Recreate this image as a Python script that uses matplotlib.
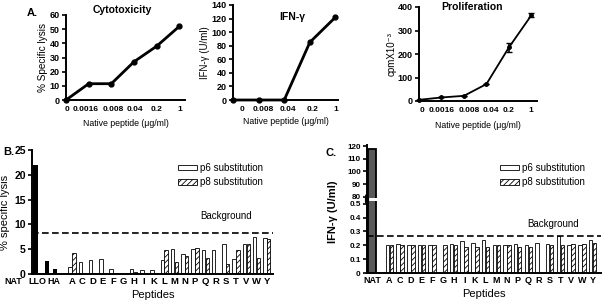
import numpy as np
import matplotlib
matplotlib.use('Agg')
import matplotlib.pyplot as plt
from matplotlib.patches import Patch

plt.rcParams['font.family'] = ['Liberation Sans', 'DejaVu Sans']
plt.rcParams['font.weight'] = 'bold'
plt.rcParams['hatch.linewidth'] = 0.6
plt.rcParams['hatch.color'] = '#333333'

# ---- panel A data ----
conc_cyto = ['0', '0.0016', '0.008', '0.04', '0.2', '1']
lysis = [0, 11.5, 11.5, 27, 38, 52]

conc_ifn = ['0', '0.008', '0.04', '0.2', '1']
ifn = [0, 0, 0, 85, 122]

conc_prolif = ['0', '0.0016', '0.008', '0.04', '0.2', '1']
cpm = [5, 15, 22, 72, 228, 365]
cpm_err = [0, 0, 0, 0, 18, 9]

# ---- panel B data ----
controls_b = ['NAT', 'LLO', 'HA']
controls_b_lysis = [22, 2.6, 1.1]
aa = ['A', 'C', 'D', 'E', 'F', 'G', 'H', 'I', 'K', 'L', 'M', 'N', 'P', 'Q', 'R',
      'S', 'T', 'V', 'W', 'Y']
p6_lysis = [1.5, 2.5, 2.8, 3.0, 1.0, 0.3, 1.0, 0.9, 0.8, 2.8, 5.0, 4.0, 5.0,
            4.8, 4.9, 6.0, 3.0, 6.0, 7.4, 7.3]
p8_lysis = [4.2, 0.0, 0.3, 0.2, 0.2, 0.2, 0.4, 0.3, 0.2, 4.8, 2.4, 3.7, 5.3,
            3.2, 0.0, 2.0, 4.8, 6.0, 3.2, 7.0]
bg_lysis = 8.3

# ---- panel C data ----
nat_ifn = 118
p6_ifn = [0.20, 0.21, 0.20, 0.20, 0.20, 0.0, 0.21, 0.23, 0.22, 0.24, 0.20, 0.20,
          0.21, 0.20, 0.22, 0.21, 0.27, 0.20, 0.20, 0.24]
p8_ifn = [0.20, 0.20, 0.20, 0.20, 0.20, 0.20, 0.20, 0.19, 0.19, 0.19, 0.20, 0.20,
          0.19, 0.19, 0.0, 0.20, 0.20, 0.21, 0.21, 0.22]
bg_ifn = 0.27

W, H = 605, 304
fig = plt.figure(figsize=(W / 100, H / 100), dpi=100)


def box(l, r, t, b):
    return [l / W, (H - b) / H, (r - l) / W, (b - t) / H]


def style(ax, fs=6.5):
    for s in ['top', 'right']:
        ax.spines[s].set_visible(False)
    for s in ['left', 'bottom']:
        ax.spines[s].set_linewidth(1.4)
    ax.tick_params(width=1.2, length=3, labelsize=fs, pad=1.5)


# ----- A: cytotoxicity -----
ax1 = fig.add_axes(box(66, 185, 15, 100))
x = np.arange(len(conc_cyto))
ax1.plot(x, lysis, color='black', lw=2, marker='o', ms=3.5, clip_on=False)
ax1.set_xlim(0, 5.25)
ax1.set_ylim(0, 60)
ax1.set_yticks(range(0, 61, 10))
# tick labels sit slightly off the points, as in the original
ax1.set_xticks([0.05, 0.88, 2.08, 3.04, 4.0, 5.0])
ax1.set_xticklabels(conc_cyto)
style(ax1)
ax1.tick_params(axis='x', length=0, pad=4, labelsize=6)
ax1.set_ylabel('% Specific lysis', fontsize=7.2, labelpad=1)
ax1.set_xlabel('Native peptide (\u03bcg/ml)', fontsize=6.3, labelpad=5)
ax1.text(0.47, 1.0, 'Cytotoxicity', transform=ax1.transAxes, ha='center',
         va='bottom', fontsize=7.5)

# ----- A: IFN-gamma -----
ax2 = fig.add_axes(box(233, 338, 5, 100))
x = np.arange(len(conc_ifn))
ax2.plot(x, ifn, color='black', lw=2, marker='o', ms=3.5, clip_on=False)
ax2.set_xlim(0, 4.1)
ax2.set_ylim(0, 140)
ax2.set_yticks(range(0, 141, 20))
ax2.set_xticks([0.35, 1.2, 2.15, 3.1, 4.0])
ax2.set_xticklabels(conc_ifn)
style(ax2)
ax2.tick_params(axis='x', length=0, pad=4, labelsize=6)
ax2.set_ylabel('IFN-\u03b3 (U/ml)', fontsize=7, labelpad=1)
ax2.set_xlabel('Native peptide (\u03bcg/ml)', fontsize=6.3, labelpad=3)
ax2.text(0.56, 0.87, 'IFN-\u03b3', transform=ax2.transAxes, ha='center',
         va='center', fontsize=7.5)

# ----- A: proliferation -----
ax3 = fig.add_axes(box(419, 537, 7, 101))
x = np.arange(len(conc_prolif))
ax3.errorbar(x, cpm, yerr=cpm_err, color='black', lw=1.3, marker='o', ms=2.5,
             capsize=2, elinewidth=1.2, clip_on=False)
ax3.set_xlim(0, 5.25)
ax3.set_ylim(0, 400)
ax3.set_yticks(range(0, 401, 100))
ax3.set_xticks([0.12, 1.0, 2.25, 3.2, 4.0, 4.97])
ax3.set_xticklabels(conc_prolif)
style(ax3)
ax3.tick_params(axis='x', length=0, pad=4, labelsize=6)
ax3.set_ylabel('cpmX10\u207b\u00b3', fontsize=7, labelpad=1)
ax3.set_xlabel('Native peptide (\u03bcg/ml)', fontsize=6.3, labelpad=5)
ax3.text(0.45, 1.0, 'Proliferation', transform=ax3.transAxes, ha='center',
         va='center', fontsize=7.5)

fig.text(27 / W, 1 - 13 / H, 'A.', fontsize=8, va='center')

# ----- B -----
axb = fig.add_axes(box(32, 273, 150, 274))
gx = np.arange(len(aa))
ctrl_x = [-3.55, -2.45, -1.65]
ctrl_w = [0.5, 0.4, 0.4]
axb.bar(ctrl_x, controls_b_lysis, width=ctrl_w, color='black')
bw = 0.33
axb.bar(gx - bw / 2 - 0.02, p6_lysis, width=bw, facecolor='white',
        edgecolor='black', lw=0.6)
axb.bar(gx + bw / 2 + 0.02, p8_lysis, width=bw, facecolor='white',
        edgecolor='black', lw=0.6, hatch='//////')
axb.axhline(bg_lysis, color='black', ls=(0, (4, 2)), lw=1.2)
axb.set_xlim(-3.9, 19.6)
axb.set_ylim(0, 25)
axb.set_yticks(range(0, 26, 5))
style(axb, fs=7.5)
axb.set_xticks(gx)
axb.set_xticklabels(aa, fontsize=6.8)
axb.tick_params(axis='x', length=0, pad=2)
ctrl_lab_x = [-5.75, -3.35, -1.75]
for lx, lab in zip(ctrl_lab_x, controls_b):
    axb.text(lx, -0.025, lab, transform=axb.get_xaxis_transform(), ha='center',
             va='top', fontsize=6.4, clip_on=False)
axb.set_ylabel('% specific lysis', fontsize=8, labelpad=3)
axb.set_xlabel('Peptides', fontsize=8, labelpad=3)
axb.text(0.70, 0.468, 'Background', transform=axb.transAxes, fontsize=7,
         weight='normal', va='center')
hb = [Patch(facecolor='white', edgecolor='black', lw=0.6, label='p6 substitution'),
      Patch(facecolor='white', edgecolor='black', lw=0.6, hatch='//////',
            label='p8 substitution')]
leg_kw = dict(loc='upper left', frameon=False,
              prop={'weight': 'normal', 'size': 7}, handlelength=2.0,
              handleheight=0.55, handletextpad=0.3, labelspacing=0.45,
              borderpad=0, borderaxespad=0)
fig.legend(handles=hb, bbox_to_anchor=(178 / W, 1 - 163 / H), **leg_kw)

fig.text(3 / W, 1 - 152 / H, 'B.', fontsize=8, va='center')

# ----- C (broken axis) -----
axc = fig.add_axes(box(367, 601, 201, 273))
axu = fig.add_axes(box(367, 601, 145, 198))
nat_x = -1.64
for a in (axc, axu):
    a.bar([nat_x], [nat_ifn], width=0.75, facecolor='0.35', edgecolor='black',
          lw=1.3)
    a.set_xlim(-2.1, 19.8)
axc.bar(gx - bw / 2 - 0.02, p6_ifn, width=bw, facecolor='white',
        edgecolor='black', lw=0.6)
axc.bar(gx + bw / 2 + 0.02, p8_ifn, width=bw, facecolor='white',
        edgecolor='black', lw=0.6, hatch='//////')
axc.axhline(bg_ifn, color='black', ls=(0, (4, 2)), lw=1.2)
axc.set_ylim(0, 0.52)
axc.set_yticks(np.arange(0, 0.51, 0.1))
axc.set_yticklabels(['0', '0.1', '0.2', '0.3', '0.4', '0.5'])
style(axc, fs=5.8)
axc.set_xticks(list(gx) + [nat_x])
axc.set_xticklabels(aa + ['NAT'], fontsize=6.5)
axc.tick_params(axis='x', length=0, pad=2)
axc.set_xlabel('Peptides', fontsize=8, labelpad=3)
axu.set_ylim(79.2, 120.8)
axu.set_yticks(range(80, 121, 10))
style(axu, fs=5.8)
axu.spines['bottom'].set_visible(False)
axu.set_xticks([])
axc.plot([0, 0], [0.98, 1.07], transform=axc.transAxes, color='black', lw=3,
         clip_on=False, solid_capstyle='round')
axc.text(0.684, 0.68, 'Background', transform=axc.transAxes, fontsize=7,
         weight='normal', va='center')
fig.legend(handles=hb, bbox_to_anchor=(500 / W, 1 - 163 / H), **leg_kw)
fig.text(333 / W, 1 - 212 / H, 'IFN-\u03b3 (U/ml)', rotation=90, fontsize=8,
         ha='center', va='center')
fig.text(325 / W, 1 - 153 / H, 'C.', fontsize=8, va='center')

fig.savefig('out.png', dpi=100)
